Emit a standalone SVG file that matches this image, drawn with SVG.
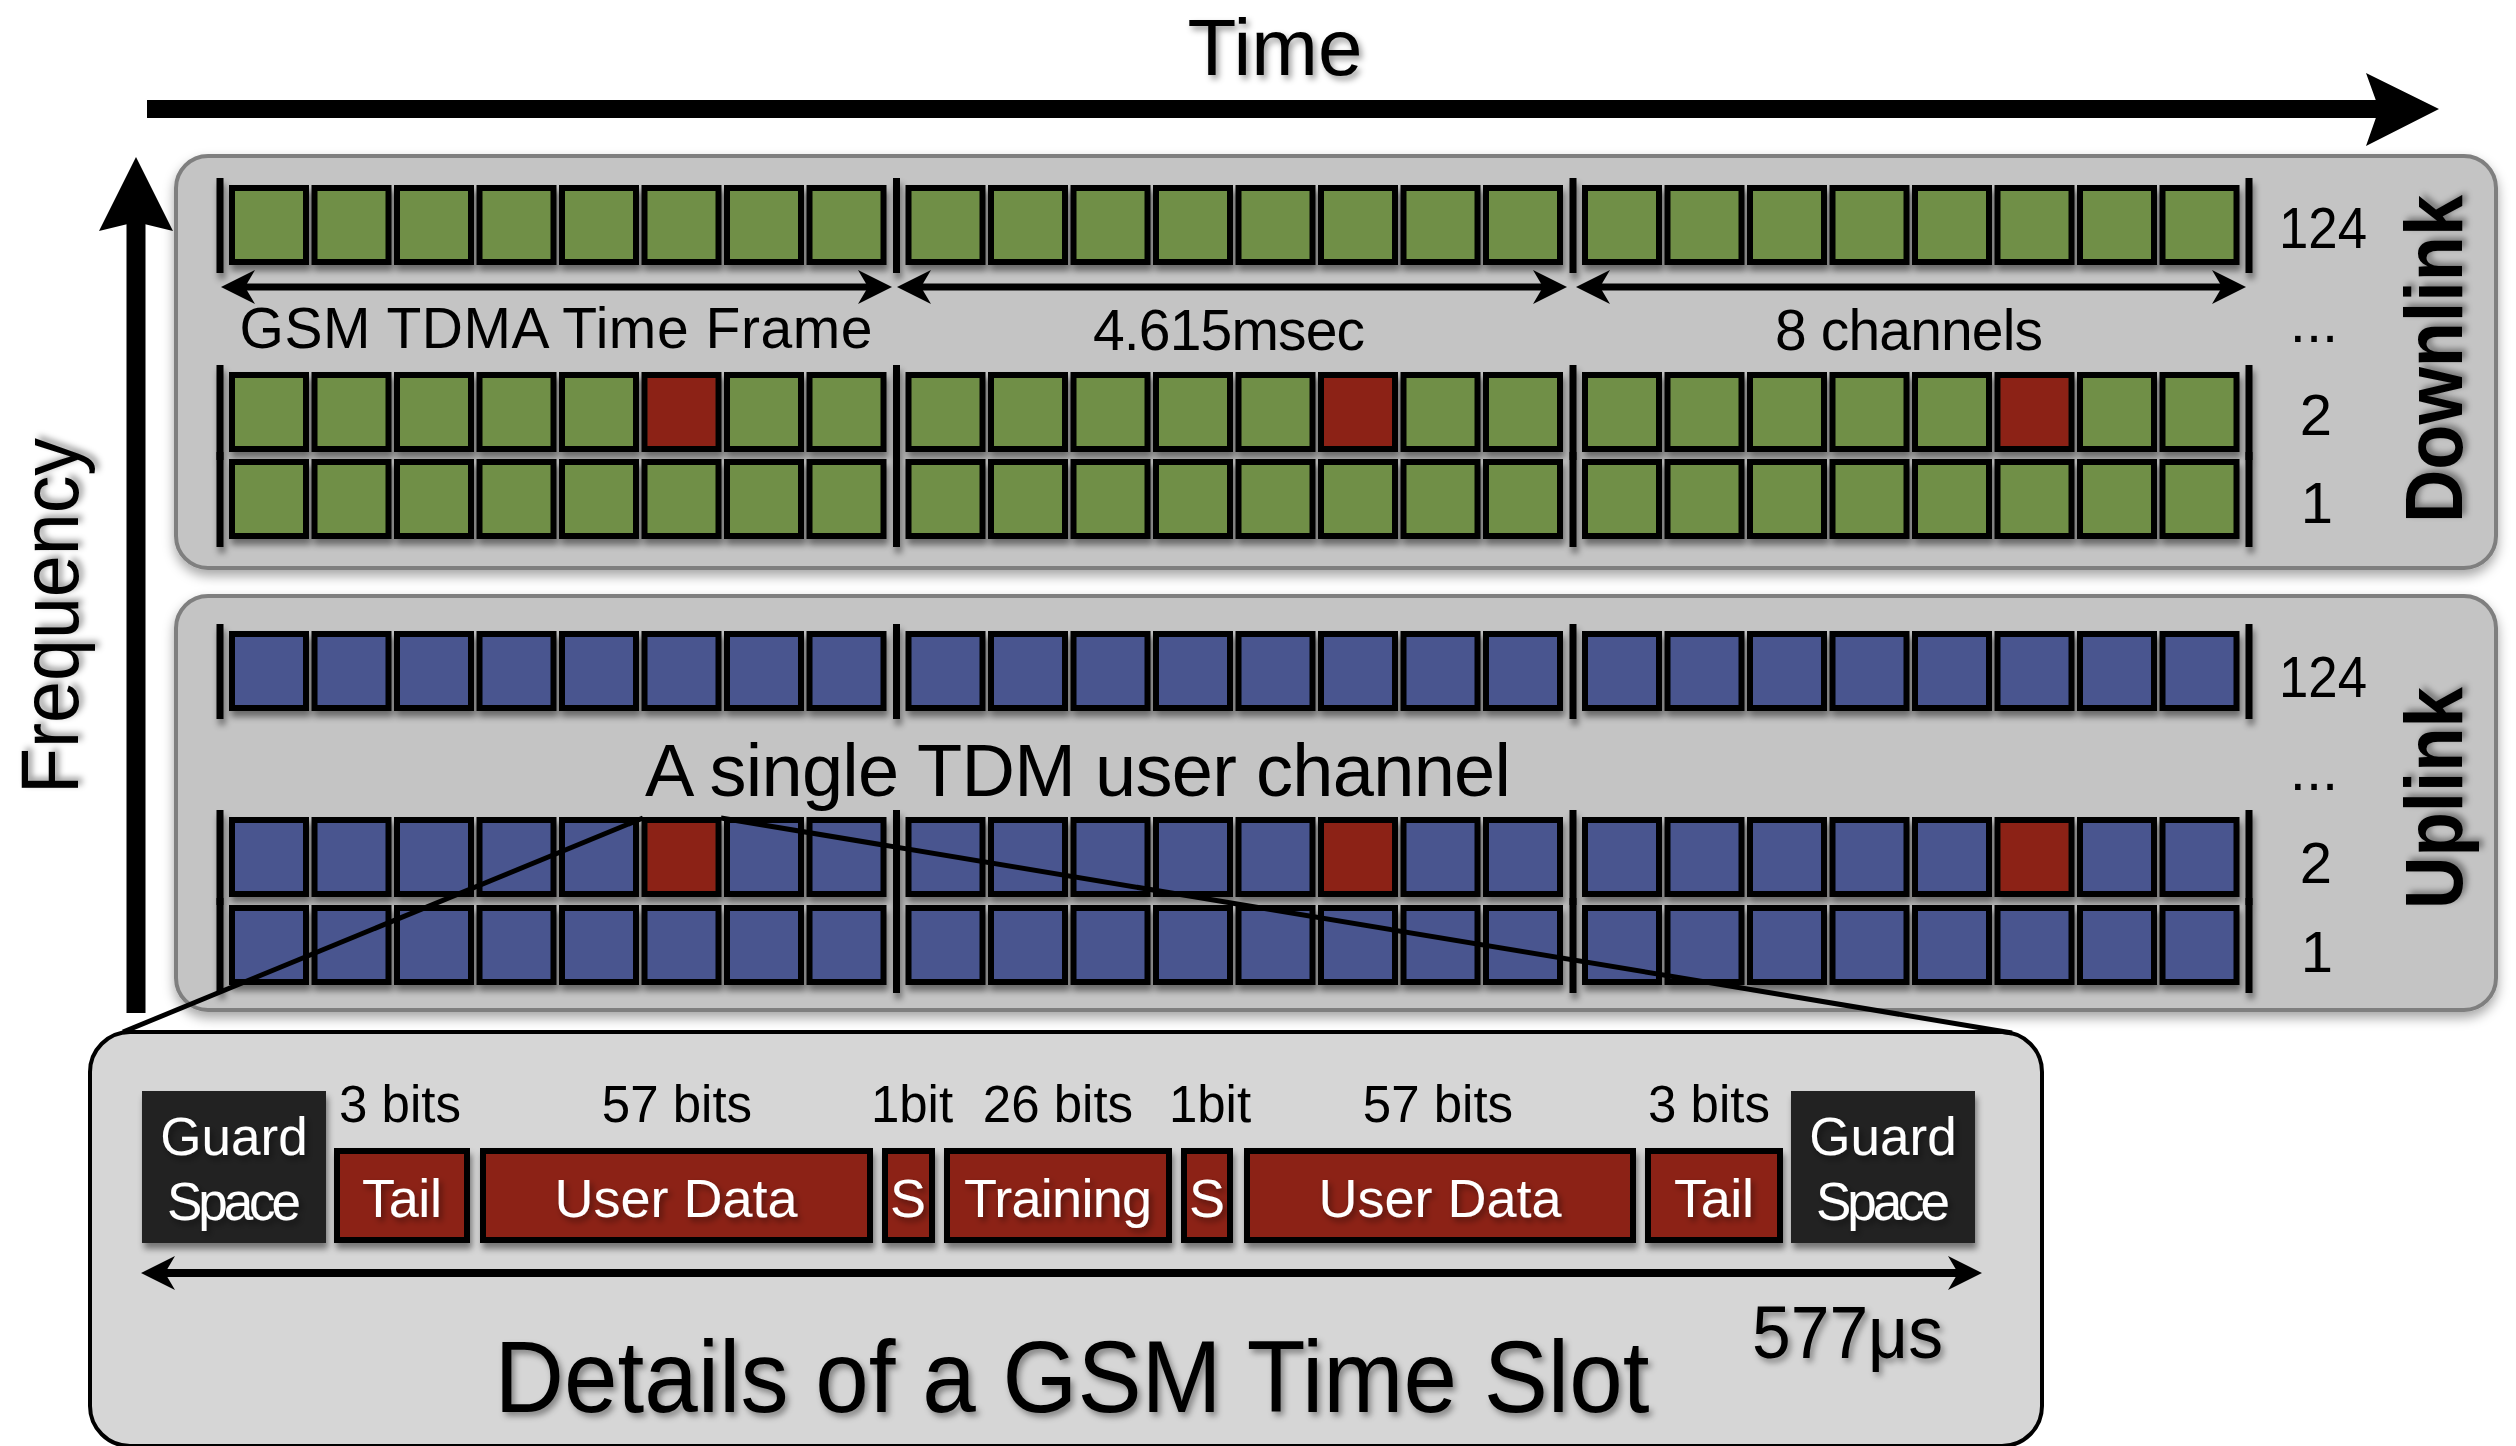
<svg xmlns="http://www.w3.org/2000/svg" xmlns:xlink="http://www.w3.org/1999/xlink" width="2516" height="1446" viewBox="0 0 2516 1446">
<defs>
<style>
.cell{stroke:#000;stroke-width:6}
.g{fill:#6f8f47}
.b{fill:#48548f}
.r{fill:#8c2419}
.bar{fill:#000}
.panel{fill:#c4c4c4;stroke:#7f7f7f;stroke-width:4}
.t{font-family:"Liberation Sans",Arial,sans-serif;fill:#000}
.w{font-family:"Liberation Sans",Arial,sans-serif;fill:#fff}
.mid{text-anchor:middle}
.box{fill:#8c2419;stroke:#000;stroke-width:6}
.guard{fill:#222}
.dim{stroke:#000;fill:none}
</style>
<filter id="sh" x="-10%" y="-10%" width="120%" height="130%">
<feDropShadow dx="2" dy="6" stdDeviation="3" flood-color="#000" flood-opacity="0.45"/>
</filter>
<filter id="psh" x="-5%" y="-10%" width="110%" height="125%">
<feDropShadow dx="0" dy="6" stdDeviation="6" flood-color="#000" flood-opacity="0.35"/>
</filter>
<filter id="ts" x="-10%" y="-20%" width="120%" height="150%">
<feDropShadow dx="3" dy="4" stdDeviation="3" flood-color="#000" flood-opacity="0.4"/>
</filter>
<marker id="ah" markerUnits="userSpaceOnUse" markerWidth="34" markerHeight="34" viewBox="0 0 34 34" refX="14" refY="17" orient="auto-start-reverse">
<path d="M0,0 L34,17 L0,34 L10,17 z" fill="#000"/>
</marker>
<rect id="bar" class="bar" x="-3.5" y="-7" width="7" height="95"/>
<g id="fG">
<use xlink:href="#bar" x="-9"/>
<rect class="cell g" x="3" y="3" width="74" height="74"/>
<rect class="cell g" x="85.5" y="3" width="74" height="74"/>
<rect class="cell g" x="168" y="3" width="74" height="74"/>
<rect class="cell g" x="250.5" y="3" width="74" height="74"/>
<rect class="cell g" x="333" y="3" width="74" height="74"/>
<rect class="cell g" x="415.5" y="3" width="74" height="74"/>
<rect class="cell g" x="498" y="3" width="74" height="74"/>
<rect class="cell g" x="580.5" y="3" width="74" height="74"/>
</g>
<g id="fGR">
<use xlink:href="#bar" x="-9"/>
<rect class="cell g" x="3" y="3" width="74" height="74"/>
<rect class="cell g" x="85.5" y="3" width="74" height="74"/>
<rect class="cell g" x="168" y="3" width="74" height="74"/>
<rect class="cell g" x="250.5" y="3" width="74" height="74"/>
<rect class="cell g" x="333" y="3" width="74" height="74"/>
<rect class="cell r" x="415.5" y="3" width="74" height="74"/>
<rect class="cell g" x="498" y="3" width="74" height="74"/>
<rect class="cell g" x="580.5" y="3" width="74" height="74"/>
</g>
<g id="fB">
<use xlink:href="#bar" x="-9"/>
<rect class="cell b" x="3" y="3" width="74" height="74"/>
<rect class="cell b" x="85.5" y="3" width="74" height="74"/>
<rect class="cell b" x="168" y="3" width="74" height="74"/>
<rect class="cell b" x="250.5" y="3" width="74" height="74"/>
<rect class="cell b" x="333" y="3" width="74" height="74"/>
<rect class="cell b" x="415.5" y="3" width="74" height="74"/>
<rect class="cell b" x="498" y="3" width="74" height="74"/>
<rect class="cell b" x="580.5" y="3" width="74" height="74"/>
</g>
<g id="fBR">
<use xlink:href="#bar" x="-9"/>
<rect class="cell b" x="3" y="3" width="74" height="74"/>
<rect class="cell b" x="85.5" y="3" width="74" height="74"/>
<rect class="cell b" x="168" y="3" width="74" height="74"/>
<rect class="cell b" x="250.5" y="3" width="74" height="74"/>
<rect class="cell b" x="333" y="3" width="74" height="74"/>
<rect class="cell r" x="415.5" y="3" width="74" height="74"/>
<rect class="cell b" x="498" y="3" width="74" height="74"/>
<rect class="cell b" x="580.5" y="3" width="74" height="74"/>
</g>
</defs>
<rect width="2516" height="1446" fill="#fff"/>

<g id="time-axis">
<line x1="147" y1="109" x2="2385" y2="109" stroke="#000" stroke-width="18"/>
<polygon points="2439,109 2366,73 2379,109 2366,146" fill="#000"/>
<text class="t mid" x="1275" y="75" font-size="80" filter="url(#ts)">Time</text>
</g>

<g id="frequency-axis">
<line x1="136" y1="1013" x2="136" y2="215" stroke="#000" stroke-width="19"/>
<polygon points="136,157 99,231 136,222 173,231" fill="#000"/>
<text class="t mid" transform="translate(78,616) rotate(-90)" font-size="82" textLength="356" lengthAdjust="spacingAndGlyphs" filter="url(#ts)">Frequency</text>
</g>

<g id="downlink">
<rect class="panel" x="176" y="156" width="2320" height="412" rx="32" filter="url(#psh)"/>
<g filter="url(#sh)">
<use xlink:href="#fG" x="229" y="185"/>
<use xlink:href="#fG" x="905.5" y="185"/>
<use xlink:href="#fG" x="1582" y="185"/>
<use xlink:href="#bar" x="2249" y="185"/>
<use xlink:href="#fGR" x="229" y="372"/>
<use xlink:href="#fGR" x="905.5" y="372"/>
<use xlink:href="#fGR" x="1582" y="372"/>
<use xlink:href="#bar" x="2249" y="372"/>
<use xlink:href="#fG" x="229" y="459"/>
<use xlink:href="#fG" x="905.5" y="459"/>
<use xlink:href="#fG" x="1582" y="459"/>
<use xlink:href="#bar" x="2249" y="459"/>
</g>
<line class="dim" x1="241" y1="287" x2="872" y2="287" stroke-width="7" marker-start="url(#ah)" marker-end="url(#ah)"/>
<line class="dim" x1="917" y1="287" x2="1547" y2="287" stroke-width="7" marker-start="url(#ah)" marker-end="url(#ah)"/>
<line class="dim" x1="1596" y1="287" x2="2226" y2="287" stroke-width="7" marker-start="url(#ah)" marker-end="url(#ah)"/>
<text class="t mid" x="556" y="348" font-size="57" textLength="633">GSM TDMA Time Frame</text>
<text class="t mid" x="1229" y="350" font-size="57" textLength="272">4.615msec</text>
<text class="t mid" x="1909" y="350" font-size="57" textLength="268">8 channels</text>
<text class="t mid" x="2323" y="248" font-size="58" textLength="88" lengthAdjust="spacingAndGlyphs">124</text>
<text class="t mid" x="2314" y="342" font-size="58">...</text>
<text class="t mid" x="2316" y="435" font-size="58">2</text>
<text class="t mid" x="2317" y="523" font-size="58">1</text>
<text class="t mid" transform="translate(2462,359) rotate(-90)" font-size="82" font-weight="bold" textLength="328" lengthAdjust="spacingAndGlyphs" filter="url(#ts)">Downlink</text>
</g>

<g id="uplink">
<rect class="panel" x="176" y="596" width="2320" height="414" rx="32" filter="url(#psh)"/>
<g filter="url(#sh)">
<use xlink:href="#fB" x="229" y="631"/>
<use xlink:href="#fB" x="905.5" y="631"/>
<use xlink:href="#fB" x="1582" y="631"/>
<use xlink:href="#bar" x="2249" y="631"/>
<use xlink:href="#fBR" x="229" y="817"/>
<use xlink:href="#fBR" x="905.5" y="817"/>
<use xlink:href="#fBR" x="1582" y="817"/>
<use xlink:href="#bar" x="2249" y="817"/>
<use xlink:href="#fB" x="229" y="905"/>
<use xlink:href="#fB" x="905.5" y="905"/>
<use xlink:href="#fB" x="1582" y="905"/>
<use xlink:href="#bar" x="2249" y="905"/>
</g>
<text class="t mid" x="1078" y="796" font-size="74" textLength="866">A single TDM user channel</text>
<text class="t mid" x="2323" y="697" font-size="58" textLength="88" lengthAdjust="spacingAndGlyphs">124</text>
<text class="t mid" x="2314" y="790" font-size="58">...</text>
<text class="t mid" x="2316" y="883" font-size="58">2</text>
<text class="t mid" x="2317" y="972" font-size="58">1</text>
<text class="t mid" transform="translate(2462,798) rotate(-90)" font-size="82" font-weight="bold" textLength="222" lengthAdjust="spacingAndGlyphs" filter="url(#ts)">Uplink</text>
</g>

<g id="time-slot-detail">
<rect x="90" y="1032" width="1952" height="414" rx="40" fill="#d6d6d6" stroke="#000" stroke-width="4"/>
<g filter="url(#sh)">
<rect class="guard" x="142" y="1091" width="184" height="152"/>
<rect class="box" x="337" y="1151" width="130" height="89"/>
<rect class="box" x="483" y="1151" width="387" height="89"/>
<rect class="box" x="885" y="1151" width="47" height="89"/>
<rect class="box" x="947" y="1151" width="222" height="89"/>
<rect class="box" x="1184" y="1151" width="46" height="89"/>
<rect class="box" x="1247" y="1151" width="386" height="89"/>
<rect class="box" x="1648" y="1151" width="132" height="89"/>
<rect class="guard" x="1791" y="1091" width="184" height="152"/>
</g>
<g filter="url(#ts)">
<text class="w mid" x="234" y="1155" font-size="53">Guard</text>
<text class="w mid" x="234" y="1220" font-size="53" textLength="134">Space</text>
<text class="w mid" x="402" y="1217" font-size="54" textLength="80">Tail</text>
<text class="w mid" x="676" y="1217" font-size="54">User Data</text>
<text class="w mid" x="908" y="1217" font-size="54">S</text>
<text class="w mid" x="1058" y="1217" font-size="54" textLength="188">Training</text>
<text class="w mid" x="1207" y="1217" font-size="54">S</text>
<text class="w mid" x="1440" y="1217" font-size="54">User Data</text>
<text class="w mid" x="1714" y="1217" font-size="54" textLength="80">Tail</text>
<text class="w mid" x="1883" y="1155" font-size="53">Guard</text>
<text class="w mid" x="1883" y="1220" font-size="53" textLength="134">Space</text>
</g>
<text class="t mid" x="400" y="1122" font-size="51">3 bits</text>
<text class="t mid" x="677" y="1122" font-size="51">57 bits</text>
<text class="t mid" x="912" y="1122" font-size="51">1bit</text>
<text class="t mid" x="1058" y="1122" font-size="51">26 bits</text>
<text class="t mid" x="1210" y="1122" font-size="51">1bit</text>
<text class="t mid" x="1438" y="1122" font-size="51">57 bits</text>
<text class="t mid" x="1709" y="1122" font-size="51">3 bits</text>
<line class="dim" x1="161" y1="1273" x2="1962" y2="1273" stroke-width="8" marker-start="url(#ah)" marker-end="url(#ah)"/>
<text class="t" x="1752" y="1358" font-size="74" textLength="191" lengthAdjust="spacingAndGlyphs" filter="url(#ts)">577μs</text>
<text class="t mid" x="1072" y="1412" font-size="102" textLength="1155" lengthAdjust="spacingAndGlyphs" filter="url(#ts)">Details of a GSM Time Slot</text>
</g>

<g id="connectors" stroke="#000" stroke-width="5" fill="none">
<line x1="643" y1="818" x2="123" y2="1032"/>
<line x1="721" y1="818" x2="2012" y2="1033"/>
</g>
</svg>
